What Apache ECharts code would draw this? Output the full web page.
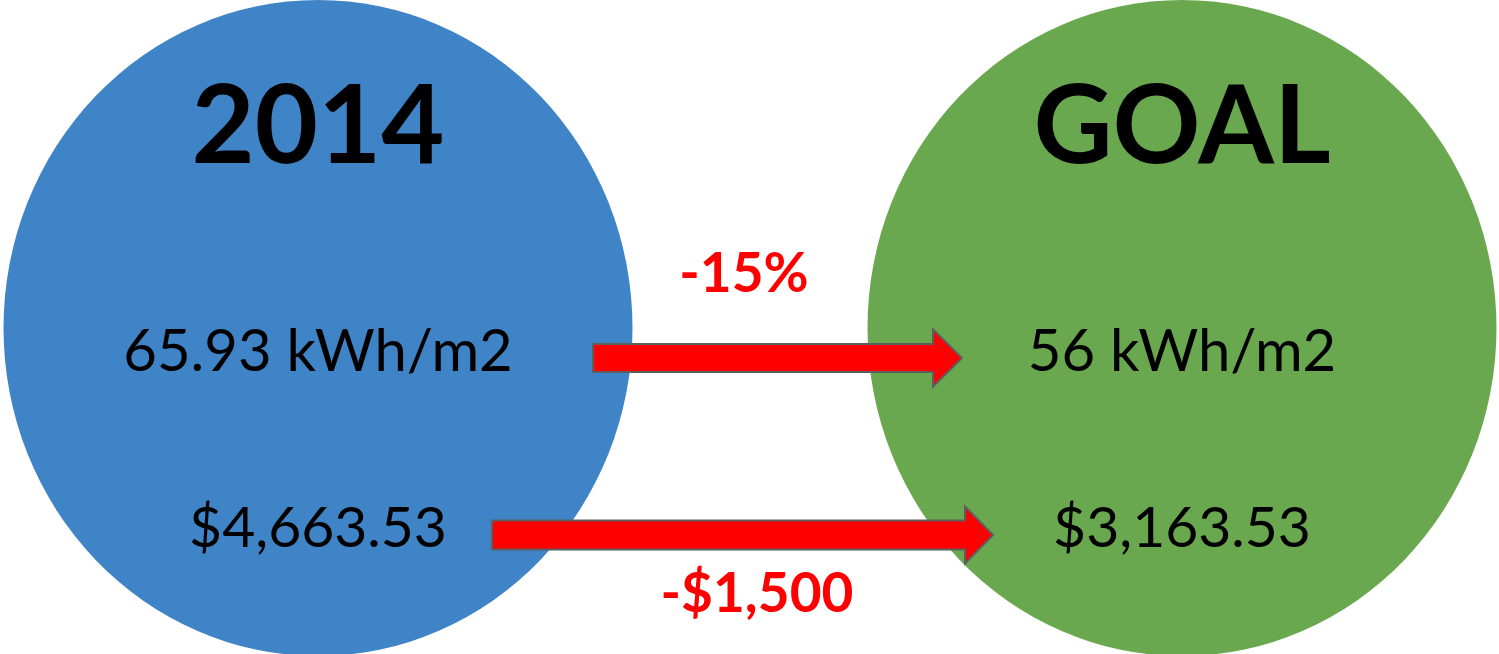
<!DOCTYPE html>
<html>
<head>
<meta charset="utf-8">
<script src="https://cdn.jsdelivr.net/npm/echarts@6/dist/echarts.min.js"></script>
<style>
html,body{margin:0;padding:0;background:#fff;}
#chart{width:1499px;height:654px;}
</style>
</head>
<body>
<div id="chart"></div>
<script>
// ---- data ----
const categories = ['2014', 'GOAL'];
const energyLabels = ['65.93 kWh/m2', '56 kWh/m2'];
const costLabels = ['$4,663.53', '$3,163.53'];
const changeLabels = ['-15%', '-$1,500'];

// ---- layout / style ----
const circleColors = ['#3F84C6', '#6AA84F'];
const rowY = { circle: 328, title: 128, energy: 352, cost: 529 };
const arrows = [
  { from: 275, to: -220, y: 358, body: 28, head: 57, headLen: 29, labelDx: 426, labelY: 274 },
  { from: 174, to: -189, y: 535, body: 29, head: 57, headLen: 28, labelDx: 439, labelY: 594 }
];
const FONT = 'Lato';

const chart = echarts.init(document.getElementById('chart'), null, { renderer: 'canvas' });

function textSeries(name, labels, y, size, weight) {
  return {
    type: 'scatter', name: name, silent: true, symbolSize: 0,
    itemStyle: { opacity: 1 },
    data: categories.map((c, i) => ({ value: [c, y], name: labels[i] })),
    label: {
      show: true, position: 'inside', formatter: p => p.name,
      color: '#000', opacity: 1, fontFamily: FONT, fontSize: size, fontWeight: weight
    },
    emphasis: { disabled: true }, z: 5
  };
}

const option = {
  animation: false,
  backgroundColor: '#fff',
  grid: { left: 318, right: 317, top: 0, bottom: 0 },
  xAxis: { type: 'category', data: categories, boundaryGap: false, show: false },
  yAxis: { type: 'value', min: 0, max: 654, inverse: true, show: false },
  series: [
    {
      type: 'scatter', silent: true, symbol: 'circle', symbolSize: [629, 656],
      itemStyle: { opacity: 1 },
      data: categories.map((c, i) => ({ value: [c, rowY.circle], itemStyle: { color: circleColors[i], opacity: 1 } })),
      emphasis: { disabled: true }, z: 1
    },
    textSeries('title', categories, rowY.title, 109, 'bold'),
    textSeries('energy', energyLabels, rowY.energy, 58, 'normal'),
    textSeries('cost', costLabels, rowY.cost, 57, 'normal'),
    {
      type: 'custom', silent: true, z: 3,
      data: changeLabels.map((l, i) => ({ value: [i], name: l })),
      renderItem: function (params, api) {
        const i = params.dataIndex;
        const a = arrows[i];
        const p0 = api.coord([categories[0], a.y]);
        const p1 = api.coord([categories[1], a.y]);
        const x0 = p0[0] + a.from, x1 = p1[0] + a.to, y = p0[1];
        const hb = x1 - a.headLen;
        const pts = [
          [x0, y - a.body / 2], [hb, y - a.body / 2], [hb, y - a.head / 2],
          [x1, y], [hb, y + a.head / 2], [hb, y + a.body / 2], [x0, y + a.body / 2]
        ];
        const ly = api.coord([categories[0], a.labelY])[1];
        return {
          type: 'group',
          children: [
            { type: 'polygon', shape: { points: pts },
              style: { fill: '#FF0000', stroke: '#5E5E5E', lineWidth: 2 } },
            { type: 'text', x: p0[0] + a.labelDx, y: ly,
              style: { text: changeLabels[i], fill: '#FF0000', font: 'bold 55px ' + FONT,
                       align: 'center', verticalAlign: 'middle' } }
          ]
        };
      }
    }
  ]
};
chart.setOption(option);
</script>
</body>
</html>
